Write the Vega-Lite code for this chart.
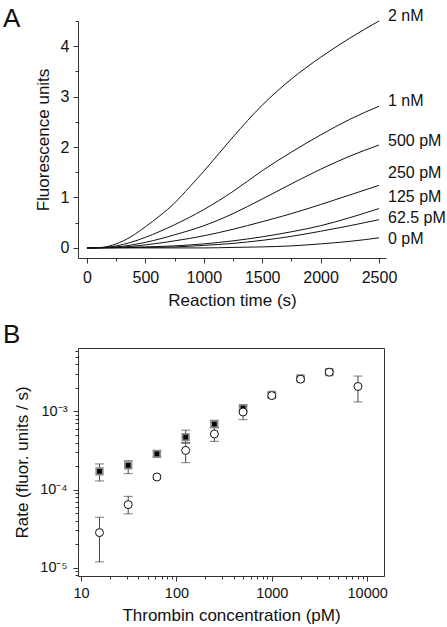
{
  "$schema": "https://vega.github.io/schema/vega-lite/v6.json",
  "padding": {"left": 2, "top": 5, "right": 0, "bottom": 0},
  "background": "white",
  "config": {
    "view": {"stroke": null},
    "font": "Liberation Sans",
    "axis": {"grid": false, "domainColor": "#333", "tickColor": "#333", "labelColor": "#111", "titleColor": "#111", "titleFontWeight": "normal", "labelOverlap": false, "labelFlush": false, "labelFont": "Liberation Sans", "titleFont": "Liberation Sans"},
    "title": {"font": "Liberation Sans", "fontWeight": "normal", "color": "#111"}
  },
  "datasets": {
    "curves": [
      {"conc": "2 nM", "t": 0, "v": 0}, {"conc": "2 nM", "t": 125, "v": 0.01}, {"conc": "2 nM", "t": 250, "v": 0.08}, {"conc": "2 nM", "t": 375, "v": 0.22}, {"conc": "2 nM", "t": 500, "v": 0.42}, {"conc": "2 nM", "t": 625, "v": 0.64}, {"conc": "2 nM", "t": 750, "v": 0.89}, {"conc": "2 nM", "t": 875, "v": 1.2}, {"conc": "2 nM", "t": 1000, "v": 1.52}, {"conc": "2 nM", "t": 1250, "v": 2.2}, {"conc": "2 nM", "t": 1500, "v": 2.83}, {"conc": "2 nM", "t": 1750, "v": 3.35}, {"conc": "2 nM", "t": 2000, "v": 3.78}, {"conc": "2 nM", "t": 2250, "v": 4.16}, {"conc": "2 nM", "t": 2500, "v": 4.5},
      {"conc": "1 nM", "t": 0, "v": 0}, {"conc": "1 nM", "t": 125, "v": 0.005}, {"conc": "1 nM", "t": 250, "v": 0.04}, {"conc": "1 nM", "t": 375, "v": 0.11}, {"conc": "1 nM", "t": 500, "v": 0.21}, {"conc": "1 nM", "t": 750, "v": 0.46}, {"conc": "1 nM", "t": 1000, "v": 0.76}, {"conc": "1 nM", "t": 1250, "v": 1.12}, {"conc": "1 nM", "t": 1500, "v": 1.53}, {"conc": "1 nM", "t": 1750, "v": 1.9}, {"conc": "1 nM", "t": 2000, "v": 2.24}, {"conc": "1 nM", "t": 2250, "v": 2.55}, {"conc": "1 nM", "t": 2500, "v": 2.81},
      {"conc": "500 pM", "t": 0, "v": 0}, {"conc": "500 pM", "t": 250, "v": 0.02}, {"conc": "500 pM", "t": 500, "v": 0.11}, {"conc": "500 pM", "t": 750, "v": 0.26}, {"conc": "500 pM", "t": 1000, "v": 0.44}, {"conc": "500 pM", "t": 1250, "v": 0.68}, {"conc": "500 pM", "t": 1500, "v": 0.97}, {"conc": "500 pM", "t": 1750, "v": 1.27}, {"conc": "500 pM", "t": 2000, "v": 1.56}, {"conc": "500 pM", "t": 2250, "v": 1.82}, {"conc": "500 pM", "t": 2500, "v": 2.04},
      {"conc": "250 pM", "t": 0, "v": 0}, {"conc": "250 pM", "t": 250, "v": 0.01}, {"conc": "250 pM", "t": 500, "v": 0.06}, {"conc": "250 pM", "t": 750, "v": 0.14}, {"conc": "250 pM", "t": 1000, "v": 0.24}, {"conc": "250 pM", "t": 1250, "v": 0.37}, {"conc": "250 pM", "t": 1500, "v": 0.52}, {"conc": "250 pM", "t": 1750, "v": 0.68}, {"conc": "250 pM", "t": 2000, "v": 0.86}, {"conc": "250 pM", "t": 2250, "v": 1.05}, {"conc": "250 pM", "t": 2500, "v": 1.24},
      {"conc": "125 pM", "t": 0, "v": 0}, {"conc": "125 pM", "t": 500, "v": 0.02}, {"conc": "125 pM", "t": 750, "v": 0.04}, {"conc": "125 pM", "t": 1000, "v": 0.08}, {"conc": "125 pM", "t": 1250, "v": 0.14}, {"conc": "125 pM", "t": 1500, "v": 0.22}, {"conc": "125 pM", "t": 1750, "v": 0.32}, {"conc": "125 pM", "t": 2000, "v": 0.44}, {"conc": "125 pM", "t": 2250, "v": 0.6}, {"conc": "125 pM", "t": 2500, "v": 0.78},
      {"conc": "62.5 pM", "t": 0, "v": 0}, {"conc": "62.5 pM", "t": 500, "v": 0.01}, {"conc": "62.5 pM", "t": 750, "v": 0.02}, {"conc": "62.5 pM", "t": 1000, "v": 0.05}, {"conc": "62.5 pM", "t": 1250, "v": 0.09}, {"conc": "62.5 pM", "t": 1500, "v": 0.15}, {"conc": "62.5 pM", "t": 1750, "v": 0.23}, {"conc": "62.5 pM", "t": 2000, "v": 0.33}, {"conc": "62.5 pM", "t": 2250, "v": 0.44}, {"conc": "62.5 pM", "t": 2500, "v": 0.56},
      {"conc": "0 pM", "t": 0, "v": 0}, {"conc": "0 pM", "t": 1000, "v": 0}, {"conc": "0 pM", "t": 1250, "v": 0.01}, {"conc": "0 pM", "t": 1500, "v": 0.02}, {"conc": "0 pM", "t": 1750, "v": 0.04}, {"conc": "0 pM", "t": 2000, "v": 0.08}, {"conc": "0 pM", "t": 2250, "v": 0.13}, {"conc": "0 pM", "t": 2500, "v": 0.2}
    ],
    "labels": [
      {"conc": "2 nM", "t": 2500, "ly": 4.6},
      {"conc": "1 nM", "t": 2500, "ly": 2.91},
      {"conc": "500 pM", "t": 2500, "ly": 2.12},
      {"conc": "250 pM", "t": 2500, "ly": 1.49},
      {"conc": "125 pM", "t": 2500, "ly": 1.01},
      {"conc": "62.5 pM", "t": 2500, "ly": 0.6},
      {"conc": "0 pM", "t": 2500, "ly": 0.17}
    ],
    "rates": [
      {"conc": 15.625, "series": "square", "rate": 0.000171, "lo": 0.000129, "hi": 0.000213},
      {"conc": 31.25, "series": "square", "rate": 0.000204, "lo": 0.00016, "hi": 0.000234},
      {"conc": 62.5, "series": "square", "rate": 0.000286, "lo": 0.000262, "hi": 0.000312},
      {"conc": 125, "series": "square", "rate": 0.000468, "lo": 0.0004, "hi": 0.000575},
      {"conc": 250, "series": "square", "rate": 0.000687, "lo": 0.00062, "hi": 0.00077},
      {"conc": 500, "series": "square", "rate": 0.0011, "lo": 0.00102, "hi": 0.00122},
      {"conc": 1000, "series": "square", "rate": 0.00163, "lo": 0.00152, "hi": 0.00175},
      {"conc": 2000, "series": "square", "rate": 0.00265, "lo": 0.0025, "hi": 0.0028},
      {"conc": 4000, "series": "square", "rate": 0.00318, "lo": 0.003, "hi": 0.00335},
      {"conc": 15.625, "series": "circle", "rate": 0.0000282, "lo": 0.0000119, "hi": 0.0000443},
      {"conc": 31.25, "series": "circle", "rate": 0.0000643, "lo": 0.000049, "hi": 0.000082},
      {"conc": 62.5, "series": "circle", "rate": 0.000145, "lo": null, "hi": null},
      {"conc": 125, "series": "circle", "rate": 0.000317, "lo": 0.000221, "hi": 0.00039},
      {"conc": 250, "series": "circle", "rate": 0.000514, "lo": 0.000414, "hi": 0.00062},
      {"conc": 500, "series": "circle", "rate": 0.000982, "lo": 0.000783, "hi": 0.00115},
      {"conc": 1000, "series": "circle", "rate": 0.00159, "lo": 0.0015, "hi": 0.0017},
      {"conc": 2000, "series": "circle", "rate": 0.00258, "lo": 0.00245, "hi": 0.00272},
      {"conc": 4000, "series": "circle", "rate": 0.00317, "lo": 0.003, "hi": 0.00335},
      {"conc": 8000, "series": "circle", "rate": 0.00208, "lo": 0.00132, "hi": 0.00283}
    ]
  },
  "concat": [
    {
      "width": 308,
      "height": 237,
      "title": {"text": "A", "anchor": "start", "frame": "group", "fontSize": 26, "baseline": "alphabetic", "offset": 0, "dx": -75, "dy": 45},
      "layer": [
        {
          "data": {"name": "curves"},
          "mark": {"type": "line", "color": "#111", "strokeWidth": 1, "interpolate": "monotone"},
          "encoding": {
            "x": {"field": "t", "type": "quantitative", "scale": {"domain": [-77, 2560], "nice": false, "zero": false},
              "axis": {"orient": "bottom", "values": [0, 500, 1000, 1500, 2000, 2500], "format": "d", "tickSize": 5, "labelPadding": 6, "labelFontSize": 16, "title": "Reaction time (s)", "titleFontSize": 17, "titlePadding": 7}},
            "y": {"field": "v", "type": "quantitative", "scale": {"domain": [-0.2, 4.5], "nice": false, "zero": false},
              "axis": {"orient": "left", "values": [0, 1, 2, 3, 4], "format": "d", "tickSize": 5, "labelPadding": 4, "labelFontSize": 16, "title": "Fluorescence units", "titleFontSize": 17, "titlePadding": 8}},
            "detail": {"field": "conc", "type": "nominal"}
          }
        },
        {
          "data": {"name": "labels"},
          "mark": {"type": "text", "align": "left", "baseline": "middle", "dx": 9, "fontSize": 16, "color": "#111"},
          "encoding": {
            "x": {"field": "t", "type": "quantitative",
              "axis": {"orient": "bottom", "values": [250, 750, 1250, 1750, 2250], "tickSize": 3, "labels": false, "domain": false, "title": null}},
            "y": {"field": "ly", "type": "quantitative",
              "axis": {"orient": "left", "values": [0.5, 1.5, 2.5, 3.5, 4.5], "tickSize": 3, "labels": false, "domain": false, "title": null}},
            "text": {"field": "conc", "type": "nominal"}
          }
        }
      ],
      "resolve": {"axis": {"x": "independent", "y": "independent"}}
    },
    {
      "width": 306,
      "height": 228,
      "view": {"stroke": "#333", "strokeWidth": 1},
      "title": {"text": "B", "anchor": "start", "frame": "group", "fontSize": 26, "baseline": "alphabetic", "offset": 0, "dx": -75, "dy": 21},
      "data": {"name": "rates"},
      "layer": [
        {
          "transform": [{"filter": "datum.lo != null"}],
          "mark": {"type": "rule", "color": "#444", "strokeWidth": 1},
          "encoding": {
            "x": {"field": "conc", "type": "quantitative", "scale": {"type": "log", "domain": [9.3, 15000], "nice": false},
              "axis": {"orient": "bottom", "values": [20, 30, 40, 50, 60, 70, 80, 90, 200, 300, 400, 500, 600, 700, 800, 900, 2000, 3000, 4000, 5000, 6000, 7000, 8000, 9000], "tickSize": 3, "labels": false, "domain": false, "title": null}},
            "y": {"field": "lo", "type": "quantitative", "scale": {"type": "log", "domain": [0.00000786, 0.00646], "nice": false},
              "axis": {"orient": "left", "values": [0.000008, 0.000009, 0.00002, 0.00003, 0.00004, 0.00005, 0.00006, 0.00007, 0.00008, 0.00009, 0.0002, 0.0003, 0.0004, 0.0005, 0.0006, 0.0007, 0.0008, 0.0009, 0.002, 0.003, 0.004, 0.005, 0.006], "tickSize": 3, "labels": false, "domain": false, "title": null}},
            "y2": {"field": "hi"}
          }
        },
        {
          "transform": [{"filter": "datum.lo != null"}],
          "mark": {"type": "tick", "orient": "horizontal", "color": "#444", "thickness": 1, "size": 9},
          "encoding": {
            "x": {"field": "conc", "type": "quantitative", "axis": null},
            "y": {"field": "lo", "type": "quantitative", "axis": null}
          }
        },
        {
          "transform": [{"filter": "datum.hi != null"}],
          "mark": {"type": "tick", "orient": "horizontal", "color": "#444", "thickness": 1, "size": 9},
          "encoding": {
            "x": {"field": "conc", "type": "quantitative", "axis": null},
            "y": {"field": "hi", "type": "quantitative", "axis": null}
          }
        },
        {
          "transform": [{"filter": "datum.series == 'square'"}],
          "mark": {"type": "point", "shape": "square", "filled": true, "fill": "#000", "stroke": "#8a8a8a", "strokeWidth": 1.8, "size": 42, "opacity": 1},
          "encoding": {
            "x": {"field": "conc", "type": "quantitative",
              "axis": {"orient": "bottom", "values": [10, 100, 1000, 10000], "labelExpr": "format(datum.value, 'd')", "tickSize": 5, "labelPadding": 5, "labelFontSize": 14.5, "title": "Thrombin concentration (pM)", "titleFontSize": 17, "titlePadding": 8}},
            "y": {"field": "rate", "type": "quantitative",
              "axis": {"orient": "left", "values": [0.00001, 0.0001, 0.001], "labelExpr": "datum.value > 0.0005 ? '10\u207b\u00b3' : datum.value > 0.00005 ? '10\u207b\u2074' : '10\u207b\u2075'", "tickSize": 5, "labelPadding": 6, "labelFontSize": 14.5, "title": "Rate (fluor. units / s)", "titleFontSize": 17, "titlePadding": 8}}
          }
        },
        {
          "transform": [{"filter": "datum.series == 'circle'"}],
          "mark": {"type": "point", "shape": "circle", "filled": true, "fill": "white", "stroke": "#111", "strokeWidth": 1, "size": 64, "opacity": 1},
          "encoding": {
            "x": {"field": "conc", "type": "quantitative", "axis": null},
            "y": {"field": "rate", "type": "quantitative", "axis": null}
          }
        }
      ],
      "resolve": {"axis": {"x": "independent", "y": "independent"}}
    }
  ],
  "columns": 1,
  "align": "none",
  "bounds": "full",
  "spacing": 13
}
